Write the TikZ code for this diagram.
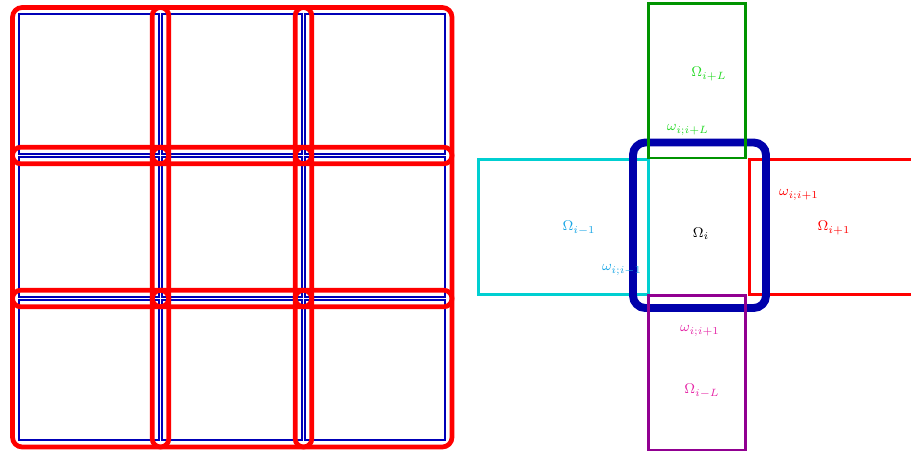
\documentclass[tikz,border=0pt]{standalone}
\usepackage{amsmath,amssymb}
\usepackage{tikz}
\usetikzlibrary{positioning,calc}
\usepackage{xcolor}
\definecolor{cellblue}{rgb}{0,0,0.72}
\definecolor{domblue}{rgb}{0,0,0.67}
\definecolor{nbgreen}{rgb}{0,0.58,0}
\definecolor{nbcyan}{rgb}{0,0.81,0.82}
\definecolor{nbpurple}{rgb}{0.57,0,0.57}
\definecolor{txtgreen}{rgb}{0.15,0.85,0.15}
\definecolor{txtcyan}{rgb}{0.1,0.65,0.9}
\definecolor{txtpink}{rgb}{0.9,0.15,0.65}
\tikzset{
  cellline/.style={draw=cellblue, line width=0.7pt},
  ovlstrip/.style={draw=red, line width=2.7pt, rounded corners=4.7pt},
  ovlbox/.style={draw=red, line width=2.7pt, rounded corners=5.5pt},
  nbbox/.style={line width=1.7pt},
  dombox/.style={draw=domblue, line width=4.5pt, rounded corners=7pt},
  sublabel/.style={font=\footnotesize, inner sep=0pt},
}

\begin{document}
\begin{tikzpicture}[x=0.02cm, y=-0.02cm]
  \useasboundingbox (0,0) rectangle (911,455);
  % left: 3x3 subdomains and overlap strips
  \foreach \i in {0,1,2}
    \foreach \j in {0,1,2}
      \draw[cellline] ({19+143*\i},{14+143*\j}) rectangle ++(140,140);
  \draw[ovlbox] (12.5,7.5) rectangle (452,447);
  \foreach \c in {160.5,303.5} {
    \draw[ovlstrip] ({\c-8.3},7.5) rectangle ({\c+8.3},447);
  }
  \foreach \c in {155.5,298.5} {
    \draw[ovlstrip] (12.5,{\c-8.3}) rectangle (452,{\c+8.3});
  }
  \foreach \cx in {160.5,303.5}
    \foreach \cy in {155.5,298.5}
      \draw[draw=red, line width=2.7pt] (\cx,\cy) circle[radius=4.7pt];

  % right: subdomain i and its neighbours
  \draw[nbbox, draw=nbcyan] (478.5,159.5) rectangle (648,294.5);
  \draw[nbbox, draw=red] (749.5,159.5) rectangle (915,294.5);
  \draw[dombox] (633,142.5) rectangle (766,308);
  \draw[nbbox, draw=nbgreen] (648.5,3.5) rectangle (745.5,158);
  \draw[nbbox, draw=nbpurple] (648.5,295.5) rectangle (745.5,450);

  \node[sublabel, text=txtgreen] (OmgUp) at (709,74) {$\Omega_{i+L}$};
  \node[sublabel, text=txtgreen] (omgUp) at (688,130) {$\omega_{i;i+L}$};
  \node[sublabel, text=txtcyan] (OmgLeft) at (579,228) {$\Omega_{i-1}$};
  \node[sublabel, text=txtcyan] (omgLeft) at (622,270) {$\omega_{i;i-1}$};
  \node[sublabel, text=red] (omgRight) at (799,195) {$\omega_{i;i+1}$};
  \node[sublabel, text=red] (OmgRight) at (834,228) {$\Omega_{i+1}$};
  \node[sublabel, text=txtpink] (omgDown) at (700,331) {$\omega_{i;i+1}$};
  \node[sublabel, text=txtpink] (OmgDown) at (702,391) {$\Omega_{i-L}$};
  \node[sublabel] (Omg) at (701,234) {$\Omega_i$};
\end{tikzpicture}
\end{document}
